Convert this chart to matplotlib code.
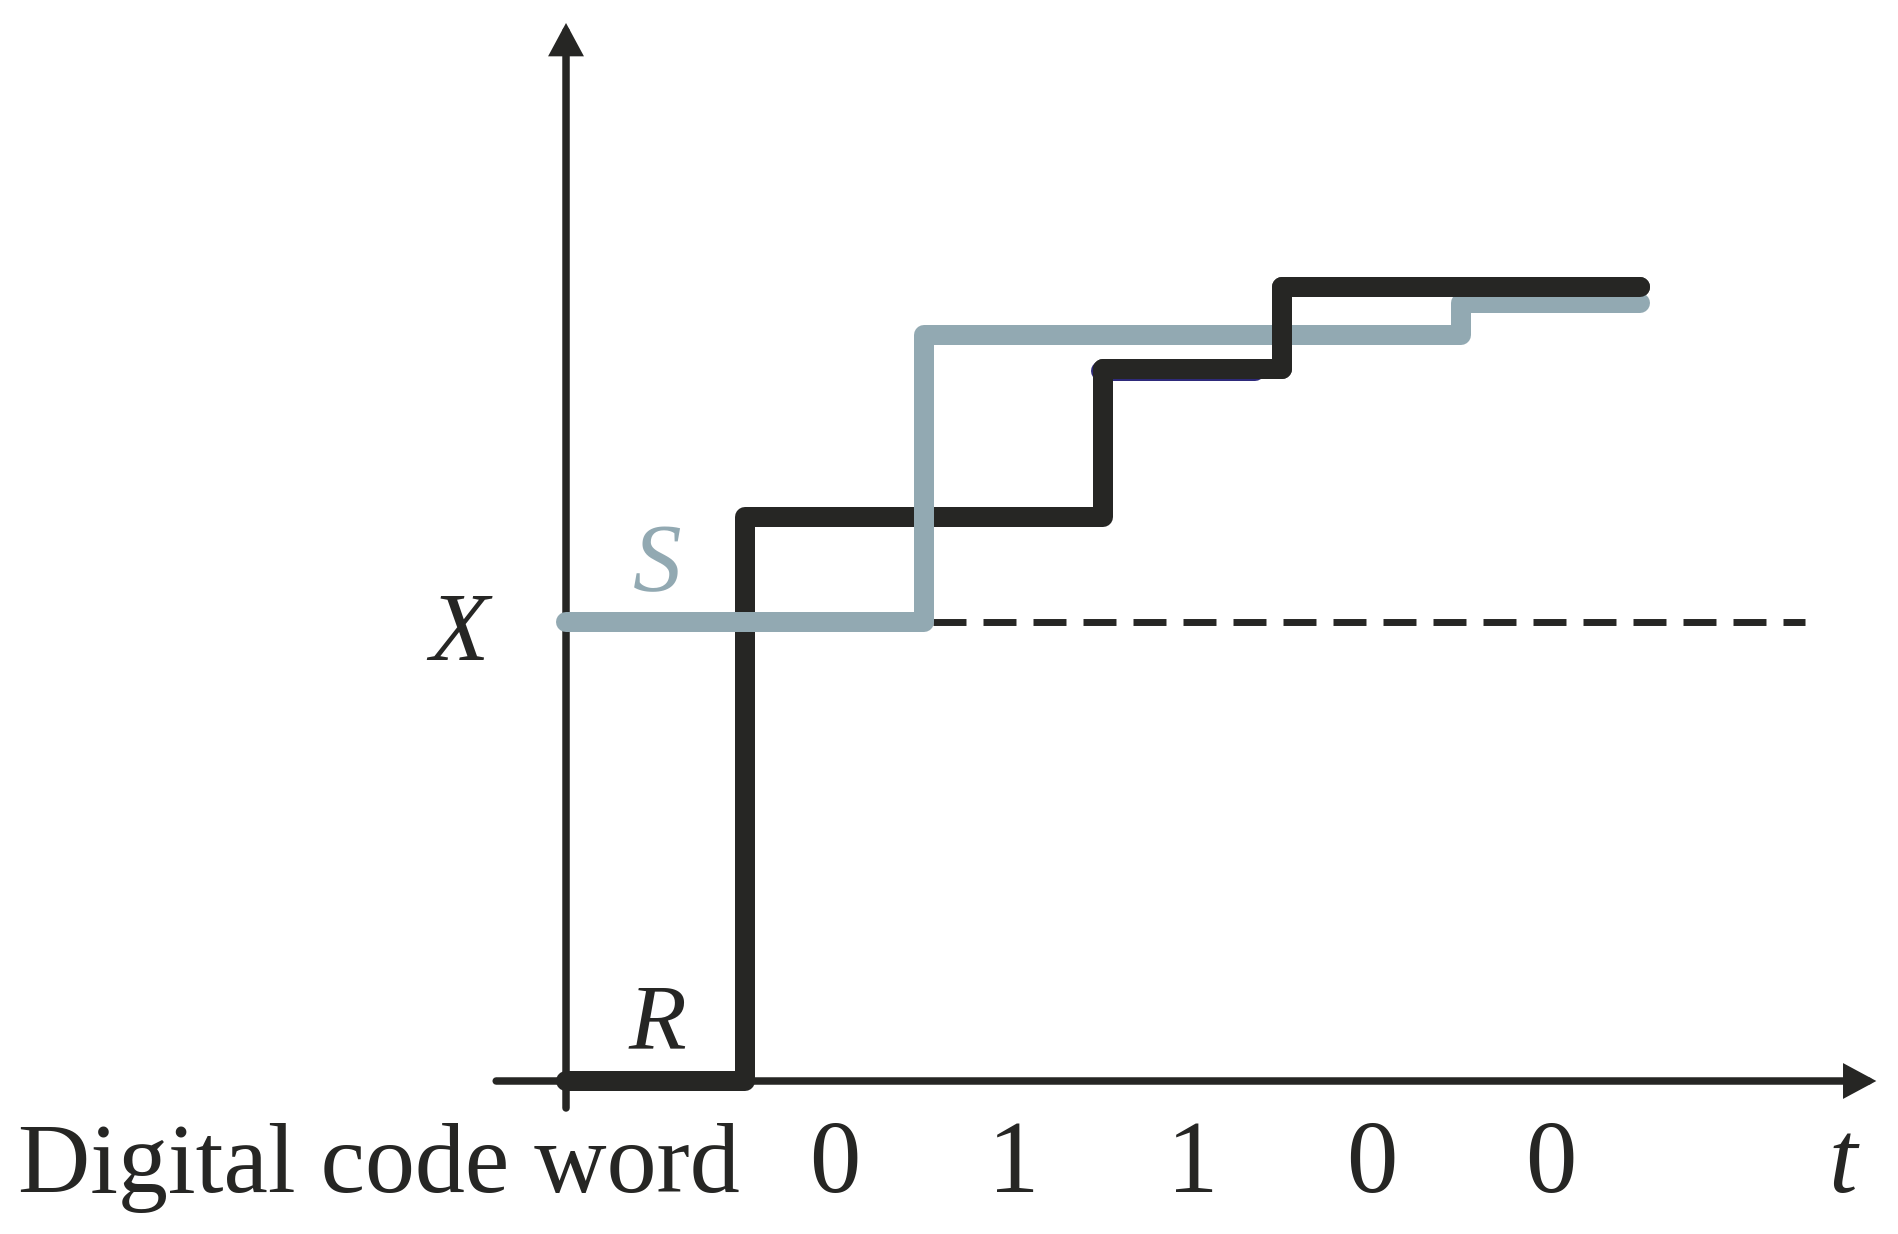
import numpy as np
import matplotlib
matplotlib.use("Agg")
import matplotlib.pyplot as plt

# %%
# step levels (t in bit periods, level in arbitrary units)
x_level = 4.59

black_t = [0, 1, 3, 4, 6]
black_v = [0, 5.64, 7.12, 7.94]

gray_t = [0, 2, 5, 6]
gray_v = [x_level, 7.46, 7.78]

bits = ["0", "1", "1", "0", "0"]
bit_t = [1.5, 2.5, 3.5, 4.5, 5.5]

black = "#262624"
gray = "#92a9b2"
navy = "#2e2a7a"


def step_xy(t, v):
    xs = np.repeat(t, 2)[1:-1]
    ys = np.repeat(v, 2)
    return xs, ys


# %%
fig = plt.figure(figsize=(18.98, 12.34), dpi=100)
ax = fig.add_axes([0, 0, 1, 1])
ax.set_xlim(-3.162, 7.441)
ax.set_ylim(-1.53, 10.81)
ax.set_axis_off()

# axes with arrow heads
arrow_kw = dict(arrowstyle="-|>,head_length=0.78,head_width=0.42",
                lw=5.4, color=black, shrinkA=0, shrinkB=0, mutation_scale=20,
                joinstyle="miter")
ax.annotate("", xy=(0, 10.58), xytext=(0, -0.27), arrowprops=arrow_kw)
ax.annotate("", xy=(7.32, 0), xytext=(-0.39, 0), arrowprops=arrow_kw)

# dashed threshold line
ax.plot([2.05, 6.92], [x_level, x_level], color=black, lw=5,
        dashes=(4.75, 2.45), zorder=2)

line_kw = dict(lw=14.4, solid_joinstyle="round", solid_capstyle="round")

# thin navy sliver under the middle step (as in the original artwork)
ax.plot([2.99, 3.85], [7.10, 7.10], color=navy, lw=14.4,
        solid_capstyle="round", zorder=2.5)

bx, by = step_xy(black_t, black_v)
ax.plot(bx, by, color=black, zorder=3, **line_kw)

gx, gy = step_xy(gray_t, gray_v)
ax.plot(gx, gy, color=gray, zorder=4, **line_kw)

# last black riser sits on top of the gray line
bx2, by2 = step_xy(black_t[2:], black_v[2:])
ax.plot(bx2, by2, color=black, zorder=5, **line_kw)

# labels
serif = "Liberation Serif"
ax.text(-0.60, 4.21, "X", family=serif, style="italic", fontsize=70,
        color=black, ha="center", va="baseline")
ax.text(0.51, 4.90, "S", family=serif, style="italic", fontsize=70,
        color=gray, ha="center", va="baseline")
ax.text(0.51, 0.33, "R", family=serif, style="italic", fontsize=68,
        color=black, ha="center", va="baseline")

ax.text(-3.06, -1.11, "Digital code word", family=serif, fontsize=72,
        color=black, ha="left", va="baseline")
for t, b in zip(bit_t, bits):
    ax.text(t, -1.11, b, family=serif, fontsize=74, color=black,
            ha="center", va="baseline")
ax.text(7.13, -1.11, "t", family=serif, style="italic", fontsize=74,
        color=black, ha="center", va="baseline")

fig.savefig("out.png", dpi=100)
